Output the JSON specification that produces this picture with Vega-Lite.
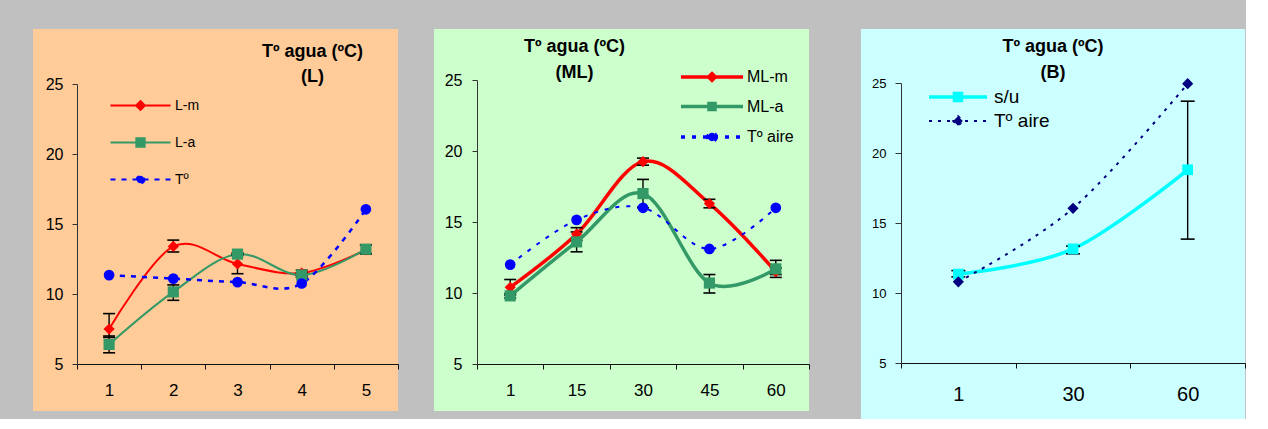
{
  "$schema": "https://vega.github.io/schema/vega-lite/v6.json",
  "background": "#C0C0C0",
  "padding": {"left": 33, "top": 29, "right": 0, "bottom": 0},
  "spacing": 35,
  "align": "none",
  "config": {
    "view": {"stroke": null},
    "font": "Liberation Sans",
    "axis": {"grid": false, "labelFont": "Liberation Sans", "labelColor": "#000", "domainColor": "#333", "tickColor": "#333", "labelFlush": false, "labelOverlap": false}
  },
  "datasets": {
    "p1": [
      {"s": "L-m", "t": 1, "v": 7.5, "lo": 6.9, "hi": 8.6},
      {"s": "L-m", "t": 2, "v": 13.4, "lo": 13.0, "hi": 13.85},
      {"s": "L-m", "t": 3, "v": 12.15, "lo": 11.45, "hi": 12.85},
      {"s": "L-m", "t": 4, "v": 11.5, "lo": 11.3, "hi": 11.7},
      {"s": "L-m", "t": 5, "v": 13.15, "lo": 12.85, "hi": 13.5},
      {"s": "L-a", "t": 1, "v": 6.4, "lo": 5.8, "hi": 7.0},
      {"s": "L-a", "t": 2, "v": 10.15, "lo": 9.55, "hi": 10.65},
      {"s": "L-a", "t": 3, "v": 12.85, "lo": 12.75, "hi": 12.95},
      {"s": "L-a", "t": 4, "v": 11.35, "lo": 11.2, "hi": 11.5},
      {"s": "L-a", "t": 5, "v": 13.2, "lo": 12.9, "hi": 13.5},
      {"s": "Tº", "t": 1, "v": 11.35, "lo": null, "hi": null},
      {"s": "Tº", "t": 2, "v": 11.1, "lo": null, "hi": null},
      {"s": "Tº", "t": 3, "v": 10.85, "lo": null, "hi": null},
      {"s": "Tº", "t": 4, "v": 10.75, "lo": null, "hi": null},
      {"s": "Tº", "t": 5, "v": 16.05, "lo": null, "hi": null}
    ],
    "p2": [
      {"s": "ML-m", "t": 1, "v": 10.4, "lo": 9.85, "hi": 10.95},
      {"s": "ML-m", "t": 15, "v": 14.15, "lo": 13.7, "hi": 14.6},
      {"s": "ML-m", "t": 30, "v": 19.25, "lo": 19.0, "hi": 19.5},
      {"s": "ML-m", "t": 45, "v": 16.3, "lo": 16.0, "hi": 16.6},
      {"s": "ML-m", "t": 60, "v": 11.5, "lo": 11.3, "hi": 11.75},
      {"s": "ML-a", "t": 1, "v": 9.8, "lo": 9.65, "hi": 9.95},
      {"s": "ML-a", "t": 15, "v": 13.6, "lo": 12.9, "hi": 14.3},
      {"s": "ML-a", "t": 30, "v": 17.0, "lo": 16.0, "hi": 18.0},
      {"s": "ML-a", "t": 45, "v": 10.7, "lo": 10.0, "hi": 11.3},
      {"s": "ML-a", "t": 60, "v": 11.7, "lo": 11.1, "hi": 12.3},
      {"s": "Tº aire", "t": 1, "v": 12.0, "lo": null, "hi": null},
      {"s": "Tº aire", "t": 15, "v": 15.15, "lo": null, "hi": null},
      {"s": "Tº aire", "t": 30, "v": 16.0, "lo": null, "hi": null},
      {"s": "Tº aire", "t": 45, "v": 13.1, "lo": null, "hi": null},
      {"s": "Tº aire", "t": 60, "v": 16.0, "lo": null, "hi": null}
    ],
    "p3": [
      {"s": "s/u", "t": 1, "v": 11.35, "lo": 11.15, "hi": 11.6},
      {"s": "s/u", "t": 30, "v": 13.15, "lo": 12.8, "hi": 13.35},
      {"s": "s/u", "t": 60, "v": 18.8, "lo": 13.85, "hi": 23.7},
      {"s": "Tº aire", "t": 1, "v": 10.8, "lo": null, "hi": null},
      {"s": "Tº aire", "t": 30, "v": 16.05, "lo": null, "hi": null},
      {"s": "Tº aire", "t": 60, "v": 24.95, "lo": null, "hi": null}
    ]
  },
  "resolve": {
    "scale": {"x": "independent", "y": "independent", "stroke": "independent", "fill": "independent", "shape": "independent", "strokeDash": "independent", "strokeWidth": "independent"},
    "legend": {"stroke": "independent", "fill": "independent", "shape": "independent", "strokeDash": "independent", "strokeWidth": "independent"}
  },
  "hconcat": [
    {
      "width": 365, "height": 382,
      "view": {"fill": "#FFCC99", "stroke": null},
      "title": {"text": ["Tº agua (ºC)", "(L)"], "frame": "group", "anchor": "middle", "dx": 97, "dy": 57, "offset": 0, "baseline": "top", "lineHeight": 25, "fontSize": 18, "font": "Liberation Sans", "fontWeight": "bold", "color": "#000"},
      "data": {"name": "p1"},
      "encoding": {
        "x": {"field": "t", "type": "ordinal", "scale": {"type": "band", "domain": [1, 2, 3, 4, 5], "range": [44, 365], "paddingInner": 0, "paddingOuter": 0},
              "axis": {"title": null, "orient": "bottom", "offset": -47, "tickBand": "extent", "tickSize": 5, "labelFontSize": 17, "labelPadding": 13, "labelAngle": 0, "domainColor": "#111", "tickColor": "#111"}},
        "y": {"field": "v", "type": "quantitative", "scale": {"domain": [5, 25], "range": [335, 55], "nice": false, "zero": false},
              "axis": {"title": null, "orient": "left", "offset": -44, "values": [5, 10, 15, 20, 25], "tickSize": 5, "labelFontSize": 16, "labelPadding": 9}}
      },
      "layer": [
        {"transform": [{"filter": "datum.s == 'L-m'"}], "mark": {"type": "line", "interpolate": "cardinal", "color": "#FF0000", "strokeWidth": 2}},
        {"transform": [{"filter": "datum.s == 'L-a'"}], "mark": {"type": "line", "interpolate": "cardinal", "color": "#339966", "strokeWidth": 2}},
        {"transform": [{"filter": "datum.s == 'Tº'"}], "mark": {"type": "line", "interpolate": "cardinal", "color": "#0000FF", "strokeWidth": 2.5, "strokeDash": [5, 6]}},
        {
          "transform": [{"filter": "datum.lo != null"}],
          "mark": {"type": "rule", "color": "#000", "strokeWidth": 1.4},
          "encoding": {"y": {"field": "lo", "type": "quantitative"}, "y2": {"field": "hi"}}
        },
        {
          "transform": [{"filter": "datum.lo != null"}],
          "mark": {"type": "tick", "orient": "horizontal", "color": "#000", "size": 12, "thickness": 1.6, "opacity": 1},
          "encoding": {"y": {"field": "lo", "type": "quantitative"}}
        },
        {
          "transform": [{"filter": "datum.lo != null"}],
          "mark": {"type": "tick", "orient": "horizontal", "color": "#000", "size": 12, "thickness": 1.6, "opacity": 1},
          "encoding": {"y": {"field": "hi", "type": "quantitative"}}
        },
        {"transform": [{"filter": "datum.s == 'L-m'"}], "mark": {"type": "point", "shape": "diamond", "filled": true, "color": "#FF0000", "size": 125, "opacity": 1}},
        {"transform": [{"filter": "datum.s == 'L-a'"}], "mark": {"type": "point", "shape": "square", "filled": true, "color": "#339966", "size": 125, "opacity": 1}},
        {"transform": [{"filter": "datum.s == 'Tº'"}], "mark": {"type": "point", "shape": "circle", "filled": true, "color": "#0000FF", "size": 115, "opacity": 1}},
        {
          "transform": [{"filter": "false"}],
          "mark": {"type": "point", "filled": true, "opacity": 1},
          "encoding": {
            "stroke": {"field": "s", "type": "nominal", "scale": {"domain": ["L-m", "L-a", "Tº"], "range": ["#FF0000", "#339966", "#0000FF"]},
              "legend": {"title": null, "orient": "none", "legendX": 98.5, "legendY": 67.5, "direction": "vertical", "symbolSize": 256, "labelFontSize": 14, "labelFont": "Liberation Sans", "labelColor": "#000", "labelOffset": 25.5, "rowPadding": 19, "padding": 0, "symbolOffset": 0}},
            "fill": {"field": "s", "type": "nominal", "scale": {"domain": ["L-m", "L-a", "Tº"], "range": ["#FF0000", "#339966", "#0000FF"]}, "legend": {"title": null}},
            "shape": {"field": "s", "type": "nominal", "scale": {"domain": ["L-m", "L-a", "Tº"], "range": [
              "M-3.75,0H3.75M0,-0.55L0.55,0L0,0.55L-0.55,0Z",
              "M-3.75,0H3.75M-0.52,-0.52H0.52V0.52H-0.52Z",
              "M-3.75,0H3.75M0.48,0A0.48,0.48,0,1,1,-0.48,0A0.48,0.48,0,1,1,0.48,0Z"]}, "legend": {"title": null}},
            "strokeDash": {"field": "s", "type": "nominal", "scale": {"domain": ["L-m", "L-a", "Tº"], "range": [[1, 0], [1, 0], [5, 6]]}, "legend": {"title": null}},
            "strokeWidth": {"field": "s", "type": "nominal", "scale": {"domain": ["L-m", "L-a", "Tº"], "range": [2, 2, 2.5]}, "legend": {"title": null}}
          }
        }
      ]
    },
    {
      "width": 375, "height": 382,
      "view": {"fill": "#CCFFCC", "stroke": null},
      "title": {"text": ["Tº agua (ºC)", "(ML)"], "frame": "group", "anchor": "middle", "dx": -47, "dy": 53, "offset": 0, "baseline": "top", "lineHeight": 26, "fontSize": 18, "font": "Liberation Sans", "fontWeight": "bold", "color": "#000"},
      "data": {"name": "p2"},
      "encoding": {
        "x": {"field": "t", "type": "ordinal", "scale": {"type": "band", "domain": [1, 15, 30, 45, 60], "range": [43, 375], "paddingInner": 0, "paddingOuter": 0},
              "axis": {"title": null, "orient": "bottom", "offset": -47, "tickBand": "extent", "tickSize": 5, "labelFontSize": 17, "labelPadding": 13, "labelAngle": 0, "domainColor": "#111", "tickColor": "#111"}},
        "y": {"field": "v", "type": "quantitative", "scale": {"domain": [5, 25], "range": [335, 51], "nice": false, "zero": false},
              "axis": {"title": null, "orient": "left", "offset": -43, "values": [5, 10, 15, 20, 25], "tickSize": 5, "labelFontSize": 16, "labelPadding": 10}}
      },
      "layer": [
        {"transform": [{"filter": "datum.s == 'ML-m'"}], "mark": {"type": "line", "interpolate": "cardinal", "color": "#FF0000", "strokeWidth": 3.5}},
        {"transform": [{"filter": "datum.s == 'ML-a'"}], "mark": {"type": "line", "interpolate": "cardinal", "color": "#339966", "strokeWidth": 3.5}},
        {"transform": [{"filter": "datum.s == 'Tº aire'"}], "mark": {"type": "line", "interpolate": "cardinal", "color": "#0000FF", "strokeWidth": 2, "strokeDash": [4, 7]}},
        {
          "transform": [{"filter": "datum.lo != null"}],
          "mark": {"type": "rule", "color": "#000", "strokeWidth": 1.4},
          "encoding": {"y": {"field": "lo", "type": "quantitative"}, "y2": {"field": "hi"}}
        },
        {
          "transform": [{"filter": "datum.lo != null"}],
          "mark": {"type": "tick", "orient": "horizontal", "color": "#000", "size": 12, "thickness": 1.6, "opacity": 1},
          "encoding": {"y": {"field": "lo", "type": "quantitative"}}
        },
        {
          "transform": [{"filter": "datum.lo != null"}],
          "mark": {"type": "tick", "orient": "horizontal", "color": "#000", "size": 12, "thickness": 1.6, "opacity": 1},
          "encoding": {"y": {"field": "hi", "type": "quantitative"}}
        },
        {"transform": [{"filter": "datum.s == 'ML-m'"}], "mark": {"type": "point", "shape": "diamond", "filled": true, "color": "#FF0000", "size": 125, "opacity": 1}},
        {"transform": [{"filter": "datum.s == 'ML-a'"}], "mark": {"type": "point", "shape": "square", "filled": true, "color": "#339966", "size": 125, "opacity": 1}},
        {"transform": [{"filter": "datum.s == 'Tº aire'"}], "mark": {"type": "point", "shape": "circle", "filled": true, "color": "#0000FF", "size": 115, "opacity": 1}},
        {
          "transform": [{"filter": "false"}],
          "mark": {"type": "point", "filled": true, "opacity": 1},
          "encoding": {
            "stroke": {"field": "s", "type": "nominal", "scale": {"domain": ["ML-m", "ML-a", "Tº aire"], "range": ["#FF0000", "#339966", "#0000FF"]},
              "legend": {"title": null, "orient": "none", "legendX": 236, "legendY": 6, "direction": "vertical", "symbolSize": 256, "labelFontSize": 16, "labelFont": "Liberation Sans", "labelColor": "#000", "labelOffset": 25, "rowPadding": 7.5, "padding": 32, "symbolOffset": 0}},
            "fill": {"field": "s", "type": "nominal", "scale": {"domain": ["ML-m", "ML-a", "Tº aire"], "range": ["#FF0000", "#339966", "#0000FF"]}, "legend": {"title": null}},
            "shape": {"field": "s", "type": "nominal", "scale": {"domain": ["ML-m", "ML-a", "Tº aire"], "range": [
              "M-3.875,0H3.875M0,-0.42L0.42,0L0,0.42L-0.42,0Z",
              "M-3.875,0H3.875M-0.38,-0.38H0.38V0.38H-0.38Z",
              "M-3.875,0H3.875M0.52,0A0.52,0.52,0,1,1,-0.52,0A0.52,0.52,0,1,1,0.52,0Z"]}, "legend": {"title": null}},
            "strokeDash": {"field": "s", "type": "nominal", "scale": {"domain": ["ML-m", "ML-a", "Tº aire"], "range": [[1, 0], [1, 0], [4, 7]]}, "legend": {"title": null}},
            "strokeWidth": {"field": "s", "type": "nominal", "scale": {"domain": ["ML-m", "ML-a", "Tº aire"], "range": [3.5, 3.5, 2]}, "legend": {"title": null}}
          }
        }
      ]
    },
    {
      "width": 384, "height": 390,
      "view": {"fill": "#CCFFFF", "stroke": null},
      "title": {"text": ["Tº agua (ºC)", "(B)"], "frame": "group", "anchor": "middle", "dx": 0, "dy": 53, "offset": 0, "baseline": "top", "lineHeight": 26, "fontSize": 18, "font": "Liberation Sans", "fontWeight": "bold", "color": "#000"},
      "data": {"name": "p3"},
      "encoding": {
        "x": {"field": "t", "type": "ordinal", "scale": {"type": "band", "domain": [1, 30, 60], "range": [40, 384], "paddingInner": 0, "paddingOuter": 0},
              "axis": {"title": null, "orient": "bottom", "offset": -56, "tickBand": "extent", "tickSize": 5, "labelFontSize": 20, "labelPadding": 16, "labelAngle": 0, "domainColor": "#111", "tickColor": "#111"}},
        "y": {"field": "v", "type": "quantitative", "scale": {"domain": [5, 25], "range": [334, 54], "nice": false, "zero": false},
              "axis": {"title": null, "orient": "left", "offset": -40, "values": [5, 10, 15, 20, 25], "tickSize": 6, "labelFontSize": 13, "labelPadding": 9}}
      },
      "layer": [
        {"transform": [{"filter": "datum.s == 's/u'"}], "mark": {"type": "line", "interpolate": "cardinal", "color": "#00FFFF", "strokeWidth": 3.5}},
        {"transform": [{"filter": "datum.s == 'Tº aire'"}], "mark": {"type": "line", "interpolate": "cardinal", "color": "#000080", "strokeWidth": 2, "strokeDash": [3, 6]}},
        {
          "transform": [{"filter": "datum.lo != null"}],
          "mark": {"type": "rule", "color": "#000", "strokeWidth": 1.4},
          "encoding": {"y": {"field": "lo", "type": "quantitative"}, "y2": {"field": "hi"}}
        },
        {
          "transform": [{"filter": "datum.lo != null"}],
          "mark": {"type": "tick", "orient": "horizontal", "color": "#000", "size": 14, "thickness": 1.6, "opacity": 1},
          "encoding": {"y": {"field": "lo", "type": "quantitative"}}
        },
        {
          "transform": [{"filter": "datum.lo != null"}],
          "mark": {"type": "tick", "orient": "horizontal", "color": "#000", "size": 14, "thickness": 1.6, "opacity": 1},
          "encoding": {"y": {"field": "hi", "type": "quantitative"}}
        },
        {"transform": [{"filter": "datum.s == 's/u'"}], "mark": {"type": "point", "shape": "square", "filled": true, "color": "#00FFFF", "size": 115, "opacity": 1}},
        {"transform": [{"filter": "datum.s == 'Tº aire'"}], "mark": {"type": "point", "shape": "diamond", "filled": true, "color": "#000080", "size": 125, "opacity": 1}},
        {
          "transform": [{"filter": "false"}],
          "mark": {"type": "point", "filled": true, "opacity": 1},
          "encoding": {
            "stroke": {"field": "s", "type": "nominal", "scale": {"domain": ["s/u", "Tº aire"], "range": ["#00FFFF", "#000080"]},
              "legend": {"title": null, "orient": "none", "legendX": 87, "legendY": 58, "direction": "vertical", "symbolSize": 256, "labelFontSize": 19, "labelFont": "Liberation Sans", "labelColor": "#000", "labelOffset": 26, "rowPadding": 3.5, "padding": 0, "symbolOffset": 0}},
            "fill": {"field": "s", "type": "nominal", "scale": {"domain": ["s/u", "Tº aire"], "range": ["#00FFFF", "#000080"]}, "legend": {"title": null}},
            "shape": {"field": "s", "type": "nominal", "scale": {"domain": ["s/u", "Tº aire"], "range": [
              "M-3.625,0H3.625M-0.44,-0.44H0.44V0.44H-0.44Z",
              "M-3.625,0H3.625M0,-0.6L0.6,0L0,0.6L-0.6,0Z"]}, "legend": {"title": null}},
            "strokeDash": {"field": "s", "type": "nominal", "scale": {"domain": ["s/u", "Tº aire"], "range": [[1, 0], [3, 6]]}, "legend": {"title": null}},
            "strokeWidth": {"field": "s", "type": "nominal", "scale": {"domain": ["s/u", "Tº aire"], "range": [3.5, 2]}, "legend": {"title": null}}
          }
        }
      ]
    }
  ]
}
